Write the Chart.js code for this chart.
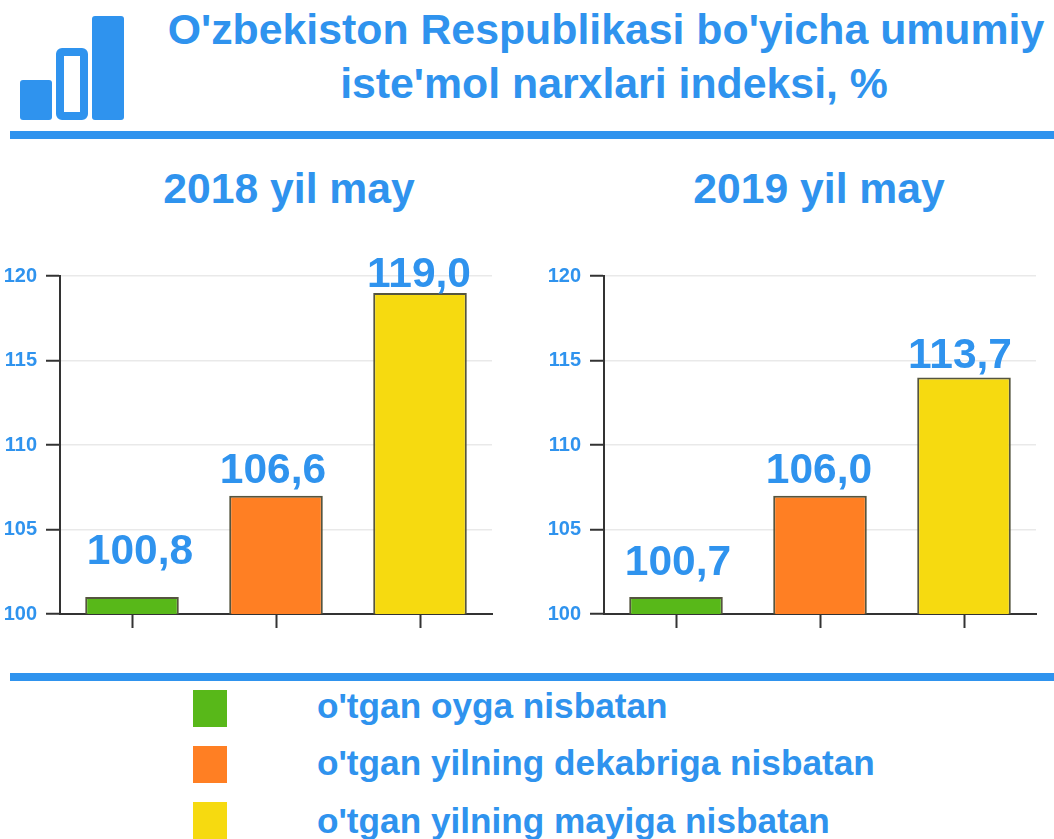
<!DOCTYPE html>
<html>
<head>
<meta charset="utf-8">
<script src="https://cdn.jsdelivr.net/npm/chart.js@4"></script>
<style>
html,body{margin:0;padding:0;background:#fff;}
body{width:1054px;height:839px;position:relative;overflow:hidden;font-family:"Liberation Sans",Arial,sans-serif;font-weight:bold;color:#2F93EE;}
.t{position:absolute;white-space:nowrap;text-align:center;}
.rule{position:absolute;left:10px;width:1044px;height:8px;background:#2F93EE;}
.sw{position:absolute;left:193px;width:34px;height:37px;}
canvas{position:absolute;top:255px;}
svg{position:absolute;left:0;top:0;}
</style>
</head>
<body>
<svg width="140" height="130">
<rect x="20" y="80" width="32" height="40" rx="3" fill="#2F93EE"/>
<rect x="60" y="52" width="24" height="64" rx="2" fill="none" stroke="#2F93EE" stroke-width="8"/>
<rect x="92" y="16" width="32" height="104" rx="3" fill="#2F93EE"/>
</svg>
<div class="t" style="left:140px;width:932px;top:11px;font-size:42.800px;line-height:37px;">O'zbekiston Respublikasi bo'yicha umumiy</div>
<div class="t" style="left:140px;width:948px;top:65px;font-size:42.800px;line-height:37px;">iste'mol narxlari indeksi, %</div>
<div class="rule" style="top:131px"></div>
<div class="t" style="left:89px;width:400px;top:165px;font-size:42.700px;line-height:46px;">2018 yil may</div>
<div class="t" style="left:619px;width:400px;top:165px;font-size:42.700px;line-height:46px;">2019 yil may</div>
<canvas id="c1" width="510" height="385" style="left:0"></canvas>
<canvas id="c2" width="510" height="385" style="left:544px"></canvas>
<div class="rule" style="top:673px"></div>
<div class="sw" style="top:690px;background:#58B819"></div>
<div class="sw" style="top:746px;background:#FF7F23"></div>
<div class="sw" style="top:802px;background:#F6DA10"></div>
<div class="t" style="left:317px;top:688px;font-size:35.200px;line-height:36px;">o'tgan oyga nisbatan</div>
<div class="t" style="left:317px;top:745px;font-size:35.200px;line-height:36px;">o'tgan yilning dekabriga nisbatan</div>
<div class="t" style="left:317px;top:803px;font-size:35.200px;line-height:36px;">o'tgan yilning mayiga nisbatan</div>
<script>
const categories = ["o'tgan oyga nisbatan", "o'tgan yilning dekabriga nisbatan", "o'tgan yilning mayiga nisbatan"];
const barColors = ["#58B819", "#FF7F23", "#F6DA10"];
const yTicks = [100, 105, 110, 115, 120];
const values2018 = [101, 107, 119];
const values2019 = [101, 107, 114];
const labels2018 = ["100,8", "106,6", "119,0"];
const labels2019 = ["100,7", "106,0", "113,7"];
const labelShift2018 = [[8, 33], [-3, 13], [-1, 6]];
const labelShift2019 = [[2, 22], [-1, 13], [-4, 9]];

const BLUE = "#2F93EE", DARK = "#333333";
const valueLabels = {
  id: "valueLabels",
  afterDatasetsDraw(chart, args, opts) {
    const ctx = chart.ctx, meta = chart.getDatasetMeta(0);
    ctx.save();
    ctx.font = "bold 42.500px 'Liberation Sans', Arial, sans-serif";
    ctx.fillStyle = BLUE;
    ctx.textAlign = "center";
    ctx.textBaseline = "alphabetic";
    meta.data.forEach((bar, i) => {
      ctx.fillText(opts.texts[i], bar.x + opts.shift[i][0], bar.y - opts.shift[i][1]);
    });
    ctx.restore();
  }
};

function build(id, values, texts, shift) {
  new Chart(document.getElementById(id), {
    type: "bar",
    data: {
      labels: categories,
      datasets: [{
        data: values,
        backgroundColor: barColors,
        borderColor: "#55553f",
        borderWidth: 2,
        categoryPercentage: 1,
        barPercentage: 0.65
      }]
    },
    options: {
      responsive: false,
      animation: false,
      devicePixelRatio: 1,
      layout: { padding: { top: 20, right: 18, bottom: 0, left: 0 } },
      plugins: {
        legend: { display: false },
        tooltip: { enabled: false },
        title: { display: false },
        valueLabels: { texts, shift }
      },
      scales: {
        x: {
          afterFit(s) { s.height = 26; },
          grid: { offset: false, drawOnChartArea: false, tickLength: 14, tickColor: DARK, tickWidth: 2 },
          border: { color: DARK, width: 2 },
          ticks: { display: false }
        },
        y: {
          min: 100,
          max: 120,
          afterFit(s) { s.width = 60; },
          afterBuildTicks(s) { s.ticks = yTicks.map(v => ({ value: v })); },
          grid: { color: "#e9e9e9", lineWidth: 1.500, tickLength: 14, tickColor: DARK, tickWidth: 2 },
          border: { color: DARK, width: 2 },
          ticks: {
            color: BLUE,
            padding: 9,
            font: { family: "'Liberation Sans', Arial, sans-serif", size: 20, weight: "bold" }
          }
        }
      }
    },
    plugins: [valueLabels]
  });
}
build("c1", values2018, labels2018, labelShift2018);
build("c2", values2019, labels2019, labelShift2019);
</script>
</body>
</html>
